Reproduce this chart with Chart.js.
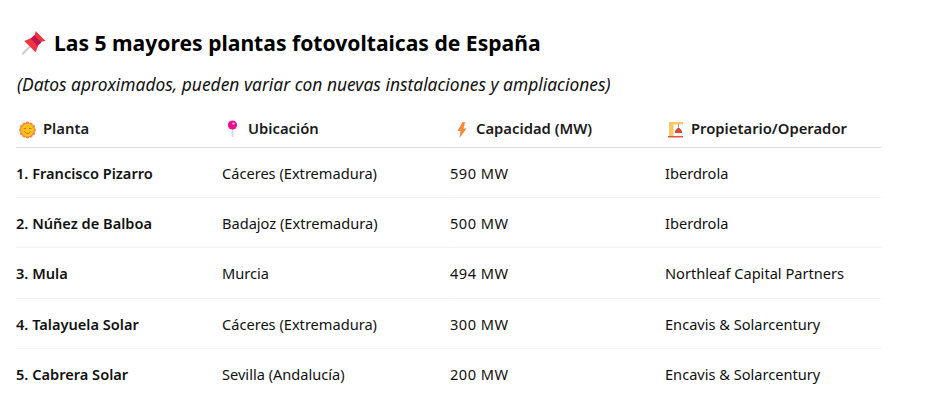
<!DOCTYPE html>
<html lang="es">
<head>
<meta charset="UTF-8">
<title>Las 5 mayores plantas fotovoltaicas de España</title>
<script src="https://cdn.jsdelivr.net/npm/chart.js"></script>
<style>
    html, body { margin: 0; padding: 0; background: #fff; overflow: hidden; }
    canvas { display: block; }
</style>
</head>
<body>
<canvas id="tabla" width="947" height="415"></canvas>
<script>
// Table content
var titulo = 'Las 5 mayores plantas fotovoltaicas de España';
var nota = '(Datos aproximados, pueden variar con nuevas instalaciones y ampliaciones)';
var columnas = ['Planta', 'Ubicación', 'Capacidad (MW)', 'Propietario/Operador'];
var plantas = ['1. Francisco Pizarro', '2. Núñez de Balboa', '3. Mula', '4. Talayuela Solar', '5. Cabrera Solar'];
var ubicaciones = ['Cáceres (Extremadura)', 'Badajoz (Extremadura)', 'Murcia', 'Cáceres (Extremadura)', 'Sevilla (Andalucía)'];
var capacidades = [590, 500, 494, 300, 200];
var operadores = ['Iberdrola', 'Iberdrola', 'Northleaf Capital Partners', 'Encavis & Solarcentury', 'Encavis & Solarcentury'];

// Layout, x in pixels from the left of the plot area
var celdaX = [0, 206, 434, 649];
var cabeceraX = [27, 232, 460, 675];
var FONT = '"Noto Sans", sans-serif';

function poly(ctx, pts, color) {
    ctx.fillStyle = color;
    ctx.beginPath();
    pts.forEach(function(p, i) { i ? ctx.lineTo(p[0], p[1]) : ctx.moveTo(p[0], p[1]); });
    ctx.closePath();
    ctx.fill();
}

function iconoChincheta(ctx) {
    ctx.save();
    ctx.translate(33.5, 43);
    ctx.rotate(Math.PI / 4);
    ctx.fillStyle = '#c9ccd0';
    ctx.fillRect(-1, 5, 2, 11);
    poly(ctx, [[-8, 5], [8, 5], [5, -2], [5, -7], [7, -10], [-7, -10], [-5, -7], [-5, -2]], '#f5333f');
    ctx.fillStyle = '#bd1550';
    ctx.fillRect(-5, -6, 10, 5);
    ctx.restore();
}

function iconoSol(ctx) {
    ctx.fillStyle = '#f78b3d';
    for (var i = 0; i < 12; i++) {
        var a = i * Math.PI / 6;
        ctx.beginPath();
        ctx.arc(27.5 + Math.cos(a) * 6.5, 130 + Math.sin(a) * 6.5, 1.9, 0, Math.PI * 2);
        ctx.fill();
    }
    ctx.fillStyle = '#fcc21b';
    ctx.beginPath();
    ctx.arc(27.5, 130, 6.3, 0, Math.PI * 2);
    ctx.fill();
    ctx.strokeStyle = '#b06a1e';
    ctx.lineWidth = 0.8;
    ctx.beginPath();
    ctx.arc(27.5, 130.5, 3, 0.3, Math.PI - 0.3);
    ctx.moveTo(23.5, 128.5);
    ctx.lineTo(26, 128.5);
    ctx.moveTo(29, 128.5);
    ctx.lineTo(31.5, 128.5);
    ctx.stroke();
}

function iconoAlfiler(ctx) {
    ctx.fillStyle = '#d9d9d9';
    ctx.fillRect(231.7, 127, 1.8, 10);
    ctx.fillStyle = '#ec0e8e';
    ctx.beginPath();
    ctx.arc(232.5, 125, 4.6, 0, Math.PI * 2);
    ctx.fill();
    ctx.fillStyle = '#fbb4dc';
    ctx.beginPath();
    ctx.arc(233.5, 123.6, 1.2, 0, Math.PI * 2);
    ctx.fill();
}

function iconoRayo(ctx) {
    poly(ctx, [[462.5, 122], [457.5, 131], [460.5, 131], [459.5, 138], [466.5, 128.5], [463.5, 128.5], [465, 122]], '#f7883c');
}

function iconoGrua(ctx) {
    ctx.fillStyle = '#fbc866';
    ctx.fillRect(669, 122, 4.5, 14);
    ctx.fillRect(669, 122, 14, 2.5);
    ctx.fillStyle = '#e8543f';
    ctx.fillRect(668, 136, 15, 1.5);
    poly(ctx, [[675, 131], [677.5, 128], [679.5, 128], [682, 131], [682, 133], [675, 133]], '#d9473a');
    ctx.fillStyle = '#888';
    ctx.fillRect(678, 124, 0.8, 4);
}

// Draws the texts of the table from the scales
var tablaPlugin = {
    id: 'tabla',
    beforeDraw: function(chart) {
        chart.ctx.fillStyle = '#fff';
        chart.ctx.fillRect(0, 0, chart.width, chart.height);
    },
    afterDatasetsDraw: function(chart) {
        var ctx = chart.ctx;
        var x = chart.scales.x;
        var y = chart.scales.y;
        ctx.save();
        ctx.textBaseline = 'middle';
        ctx.textAlign = 'left';

        ctx.fillStyle = '#000';
        ctx.font = 'bold 21.1px ' + FONT;
        ctx.fillText(titulo, 54, 45);
        ctx.font = 'italic 17.4px ' + FONT;
        ctx.fillStyle = '#111';
        ctx.fillText(nota, 17, 86.5);

        ctx.fillStyle = '#1a1a1a';
        ctx.font = '600 14.8px ' + FONT;
        columnas.forEach(function(c, i) {
            ctx.fillText(c, x.left + cabeceraX[i], 130);
        });

        ctx.fillStyle = '#111';
        plantas.forEach(function(p, i) {
            var py = y.getPixelForValue(i) + 2.2;
            ctx.font = '600 14.6px ' + FONT;
            ctx.fillText(p, x.getPixelForValue(celdaX[0]), py);
            ctx.font = '14.6px ' + FONT;
            ctx.fillText(ubicaciones[i], x.getPixelForValue(celdaX[1]), py);
            ctx.fillText(operadores[i], x.getPixelForValue(celdaX[3]), py);
            ctx.letterSpacing = '0.5px';
            ctx.fillText(capacidades[i] + ' MW', x.getPixelForValue(celdaX[2]), py);
            ctx.letterSpacing = '0px';
        });

        iconoChincheta(ctx);
        iconoSol(ctx);
        iconoAlfiler(ctx);
        iconoRayo(ctx);
        iconoGrua(ctx);
        ctx.restore();
    }
};

new Chart(document.getElementById('tabla').getContext('2d', { alpha: false }), {
    type: 'scatter',
    data: {
        datasets: [{
            label: 'Capacidad (MW)',
            data: capacidades.map(function(c, i) { return { x: celdaX[2], y: plantas[i] }; }),
            pointRadius: 0,
            pointHoverRadius: 0
        }]
    },
    plugins: [tablaPlugin],
    options: {
        responsive: false,
        animation: false,
        devicePixelRatio: 1,
        layout: { padding: { left: 16, right: 66, top: 147, bottom: 16 } },
        plugins: { legend: { display: false }, tooltip: { enabled: false } },
        scales: {
            x: { type: 'linear', display: false, min: 0, max: 865 },
            y: {
                type: 'category',
                labels: plantas,
                offset: true,
                ticks: { display: false },
                border: { display: false },
                grid: {
                    offset: true,
                    drawTicks: false,
                    lineWidth: 1,
                    color: function(c) {
                        // the closing line has no tick context, so no index
                        if (c.index === undefined) return 'transparent';
                        return c.index === 0 ? '#dcdcdc' : '#f2f2f2';
                    }
                }
            }
        }
    }
});
</script>
</body>
</html>
